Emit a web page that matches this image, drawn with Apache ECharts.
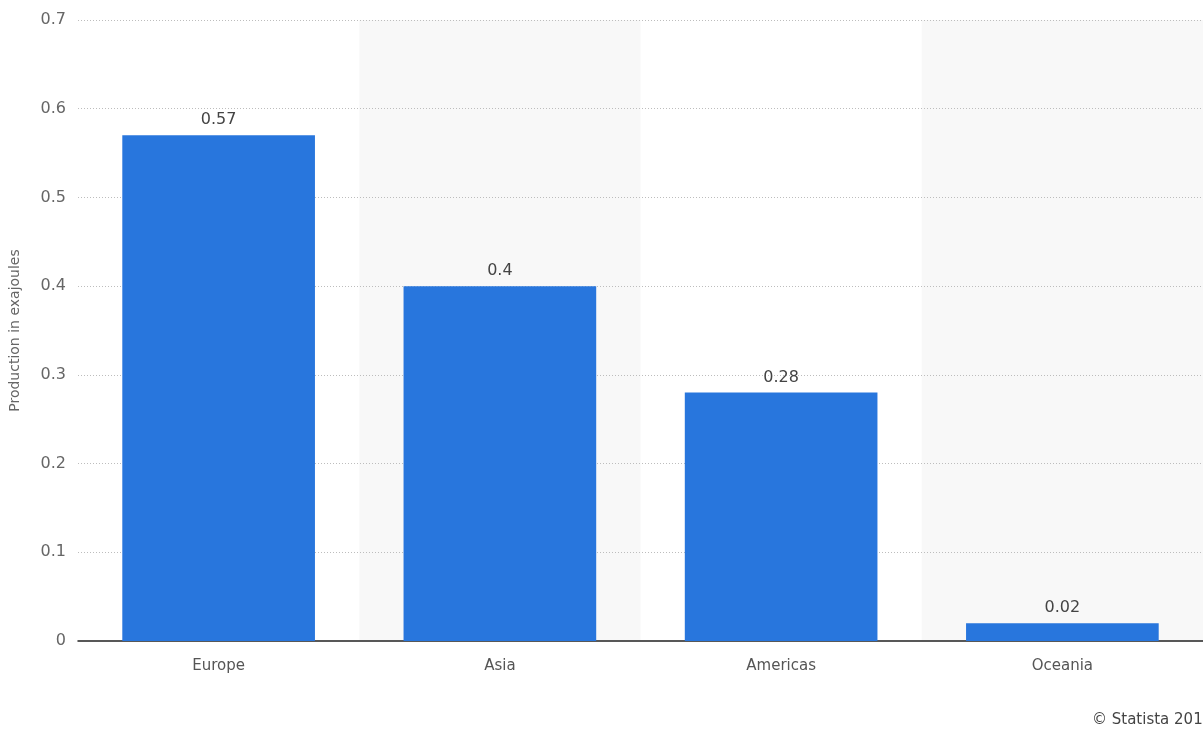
<!DOCTYPE html>
<html><head><meta charset="utf-8">
<script src="https://cdn.jsdelivr.net/npm/echarts@6/dist/echarts.min.js"></script>
<style>html,body{margin:0;padding:0;background:#fff}#c{width:1203px;height:731px}</style>
</head><body><div id="c"></div>
<script>
const categories = ['Europe', 'Asia', 'Americas', 'Oceania'];
const values = [0.57, 0.4, 0.28, 0.02];
const yTicks = [0, 0.1, 0.2, 0.3, 0.4, 0.5, 0.6, 0.7];

const FONT = '"DejaVu Sans", Verdana, sans-serif';
const chart = echarts.init(document.getElementById('c'));
chart.setOption({
  animation: false,
  textStyle: { fontFamily: FONT },
  grid: { left: 78, right: -1, top: 20, bottom: 90 },
  xAxis: {
    type: 'category', data: categories, z: 0,
    axisLine: { lineStyle: { color: '#222', width: 1.5 } },
    axisTick: { show: false },
    axisLabel: { color: '#555', fontSize: 15, margin: 18, fontFamily: FONT },
    splitArea: { show: true, areaStyle: { color: ['rgba(0,0,0,0)', '#f8f8f8'] } }
  },
  yAxis: {
    type: 'value', min: 0, max: 0.7, interval: 0.1, z: 1,
    name: 'Production in exajoules', nameLocation: 'middle', nameGap: 56,
    nameTextStyle: { color: '#666', fontSize: 14, fontFamily: FONT },
    axisLine: { show: false }, axisTick: { show: false },
    axisLabel: { color: '#666', fontSize: 16, margin: 12, fontFamily: FONT, formatter: v => {
      const t = yTicks.find(x => Math.abs(x - v) < 1e-9); return t === undefined ? '' : String(t); } },
    splitLine: { showMinLine: false, lineStyle: { color: '#bdbdbd', type: [1, 2] } }
  },
  series: [{
    type: 'bar', data: values, barCategoryGap: '31.5%', z: 3,
    itemStyle: { color: '#2876dd' },
    label: { show: true, position: 'top', distance: 7, color: '#444', fontSize: 16, fontFamily: FONT }
  }],
  graphic: [{ type: 'text', left: 1092, top: 713, z: 10, style: { text: '© Statista 2018', fill: '#444', font: '15px "DejaVu Sans", sans-serif' } }]
});
</script></body></html>
